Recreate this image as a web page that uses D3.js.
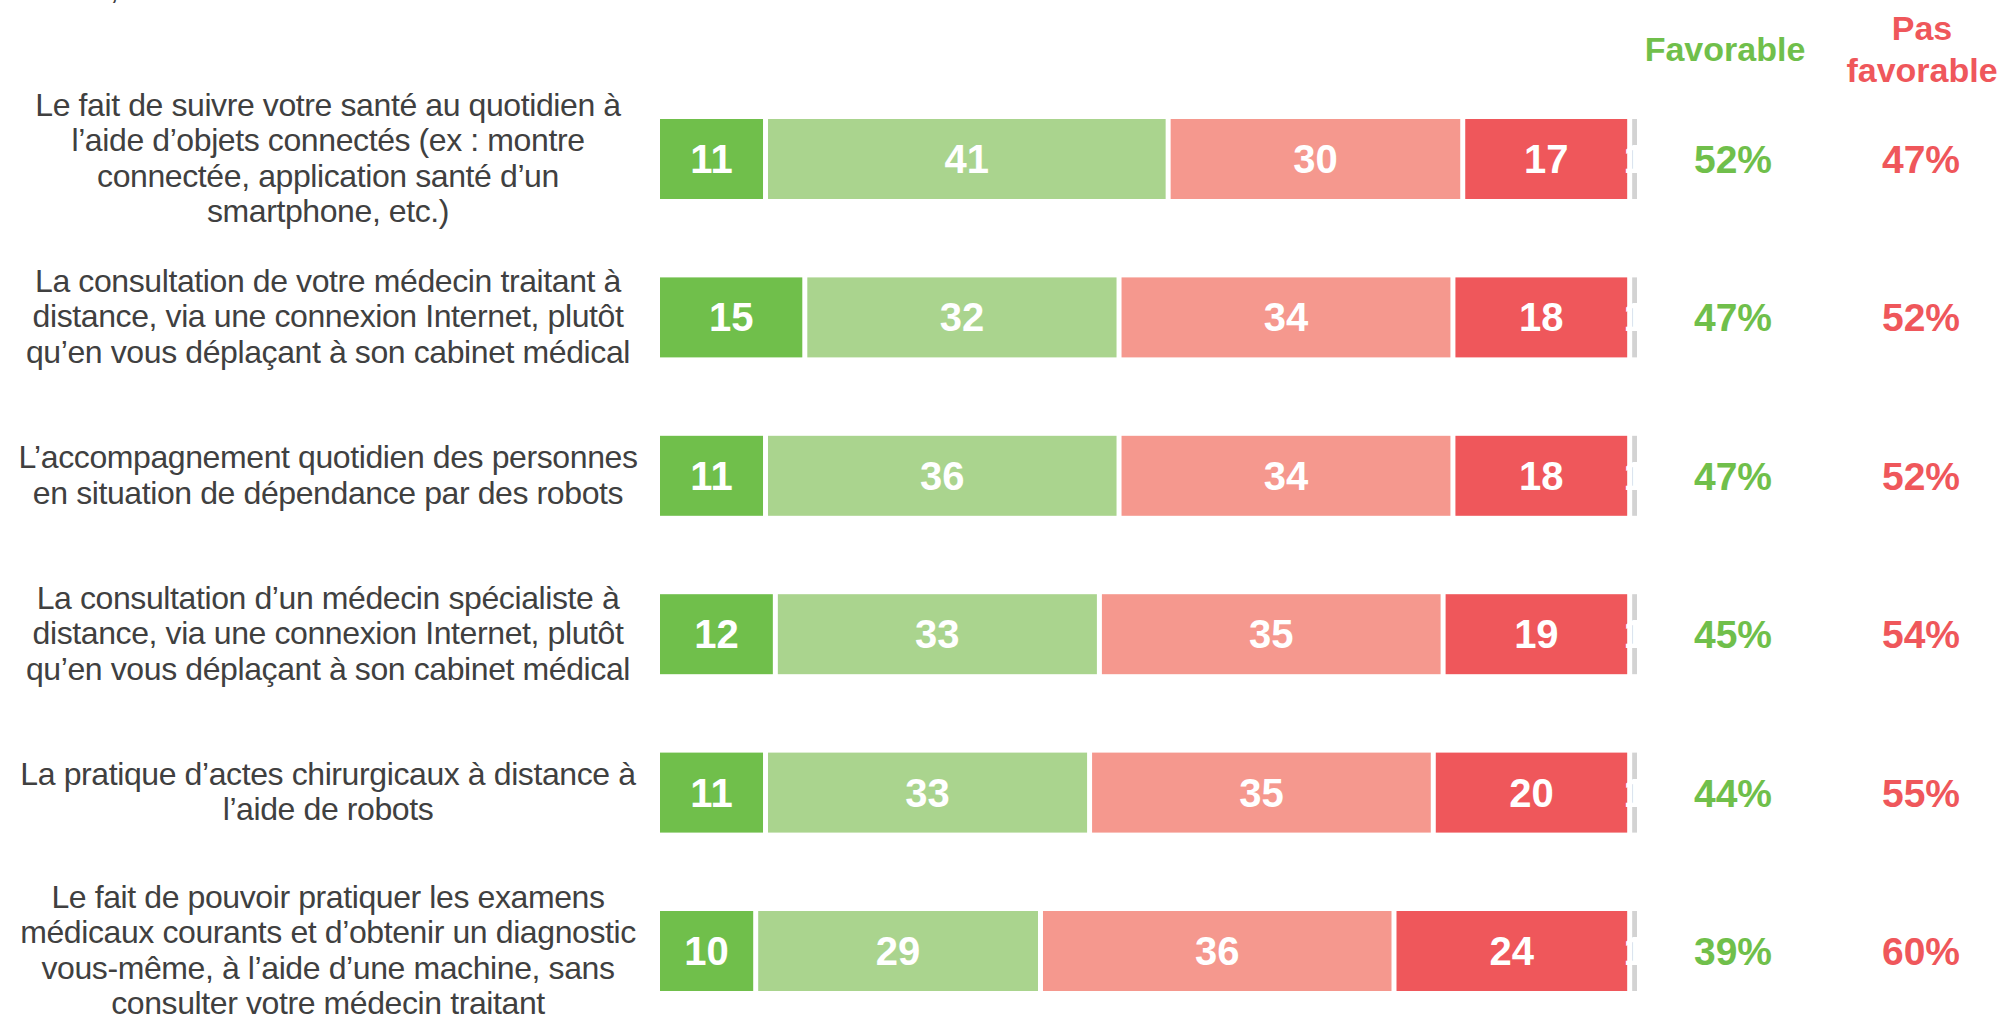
<!DOCTYPE html>
<html>
	<head>
		<meta charset="utf-8" />
		<title>Santé connectée - favorable / pas favorable</title>
		<style>
			body {
				margin: 0;
				background: #ffffff;
			}
			svg {
				display: block;
			}
			.label {
				font-family: "Liberation Sans", Arial, sans-serif;
				fill: #404040;
			}
			.seg-label, .pct, .head {
				font-family: "Liberation Sans", Arial, sans-serif;
				font-weight: bold;
			}
		</style>
	</head>
	<body>
		<div id="holder"></div>
		<script src="https://d3js.org/d3.v7.min.js"></script>
		<script>
			//Data
			const rows = ["r1", "r2", "r3", "r4", "r5", "r6"];
			const rowLabels = [
				["Le fait de suivre votre santé au quotidien à", "l’aide d’objets connectés (ex : montre", "connectée, application santé d’un", "smartphone, etc.)"],
				["La consultation de votre médecin traitant à", "distance, via une connexion Internet, plutôt", "qu’en vous déplaçant à son cabinet médical"],
				["L’accompagnement quotidien des personnes", "en situation de dépendance par des robots"],
				["La consultation d’un médecin spécialiste à", "distance, via une connexion Internet, plutôt", "qu’en vous déplaçant à son cabinet médical"],
				["La pratique d’actes chirurgicaux à distance à", "l’aide de robots"],
				["Le fait de pouvoir pratiquer les examens", "médicaux courants et d’obtenir un diagnostic", "vous-même, à l’aide d’une machine, sans", "consulter votre médecin traitant"]
			];
			const tresFavorable = [11, 15, 11, 12, 11, 10];
			const plutotFavorable = [41, 32, 36, 33, 33, 29];
			const plutotPasFavorable = [30, 34, 34, 35, 35, 36];
			const pasDuToutFavorable = [17, 18, 18, 19, 20, 24];
			const nsp = [1, 1, 1, 1, 1, 1];
			const totalFavorable = [52, 47, 47, 45, 44, 39];
			const totalPasFavorable = [47, 52, 52, 54, 55, 60];

			const series = [tresFavorable, plutotFavorable, plutotPasFavorable, pasDuToutFavorable, nsp];
			const colors = ["#70bf4b", "#aad48e", "#f5988e", "#ef575b", "#d3d3d3"];

			//Variables
			const w = 2002;
			const h = 1017;
			const gap = 5;
			const green = "#70bf4b";
			const red = "#ef575b";

			let svg = d3.select("#holder")
				.append("svg")
				.attr("width", w)
				.attr("height", h);

			//Scales
			let xScale = d3.scaleLinear()
				.domain([0, 100])
				.range([657.5, 1639.5]);

			let yScale = d3.scaleBand()
				.domain(rows)
				.range([79.8, 1030.2])
				.paddingInner(0.495)
				.paddingOuter(0.2475);

			//Stack the segments
			let segs = [];
			rows.forEach((r, i) => {
				let cum = 0;
				series.forEach((s, k) => {
					segs.push({row: r, k: k, v: s[i], x0: cum, x1: cum + s[i]});
					cum += s[i];
				});
			});

			//Bars
			svg.selectAll("rect.seg")
				.data(segs)
				.enter()
				.append("rect")
				.attr("class", "seg")
				.attr("x", d => xScale(d.x0) + gap / 2)
				.attr("y", d => yScale(d.row))
				.attr("width", d => xScale(d.x1) - xScale(d.x0) - gap)
				.attr("height", yScale.bandwidth())
				.style("fill", d => colors[d.k]);

			svg.selectAll("text.seg-label")
				.data(segs)
				.enter()
				.append("text")
				.attr("class", "seg-label")
				.attr("x", d => xScale((d.x0 + d.x1) / 2))
				.attr("y", d => yScale(d.row) + yScale.bandwidth() / 2 + 14)
				.attr("text-anchor", "middle")
				.style("font-size", "40px")
				.style("fill", "#ffffff")
				.text(d => d.v);

			//Row labels
			const lineH = 35.5;
			let lab = svg.selectAll("g.label")
				.data(rows)
				.enter()
				.append("g")
				.attr("class", "label");
			lab.each(function(r, i) {
				let lines = rowLabels[i];
				let cy = yScale(r) + yScale.bandwidth() / 2;
				d3.select(this).selectAll("text")
					.data(lines)
					.enter()
					.append("text")
					.attr("x", 328)
					.attr("y", (d, j) => cy + (j - (lines.length - 1) / 2) * lineH + 10)
					.attr("text-anchor", "middle")
					.style("font-size", "32px")
					.style("letter-spacing", "-0.4px")
					.text(d => d);
			});

			//Leftover of a line cut at the top
			svg.append("text")
				.attr("class", "label")
				.attr("x", 110)
				.attr("y", -1)
				.style("font-size", "32px")
				.text(",");

			//Totals
			svg.selectAll("text.fav")
				.data(rows)
				.enter()
				.append("text")
				.attr("class", "pct fav")
				.attr("x", 1733)
				.attr("y", r => yScale(r) + yScale.bandwidth() / 2 + 14)
				.attr("text-anchor", "middle")
				.style("font-size", "39px")
				.style("fill", green)
				.text((r, i) => totalFavorable[i] + "%");

			svg.selectAll("text.unfav")
				.data(rows)
				.enter()
				.append("text")
				.attr("class", "pct unfav")
				.attr("x", 1921)
				.attr("y", r => yScale(r) + yScale.bandwidth() / 2 + 14)
				.attr("text-anchor", "middle")
				.style("font-size", "39px")
				.style("fill", red)
				.text((r, i) => totalPasFavorable[i] + "%");

			//Headers
			svg.append("text")
				.attr("class", "head")
				.attr("x", 1725)
				.attr("y", 61)
				.attr("text-anchor", "middle")
				.style("font-size", "34px")
				.style("fill", green)
				.text("Favorable");

			svg.append("text")
				.attr("class", "head")
				.attr("x", 1922)
				.attr("y", 40)
				.attr("text-anchor", "middle")
				.style("font-size", "34px")
				.style("fill", red)
				.text("Pas");

			svg.append("text")
				.attr("class", "head")
				.attr("x", 1922)
				.attr("y", 82)
				.attr("text-anchor", "middle")
				.style("font-size", "34px")
				.style("fill", red)
				.text("favorable");
		</script>
	</body>
</html>
